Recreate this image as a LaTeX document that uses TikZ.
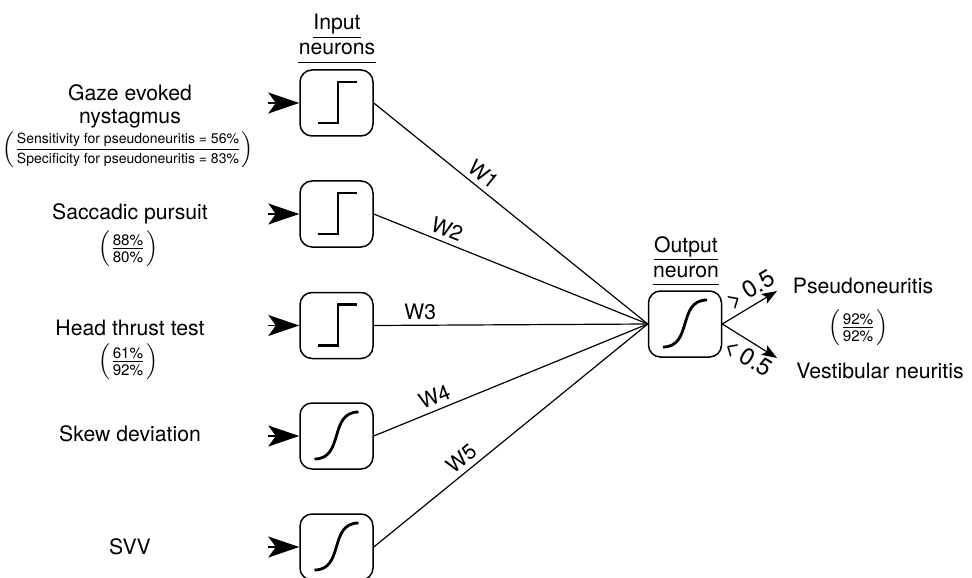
\documentclass[tikz,border=0pt]{standalone}
\usepackage{fontspec}
\setmainfont{TeX Gyre Heros}
\usetikzlibrary{arrows.meta}
\newcommand\pfrac[2]{\ensuremath{\left(\,\vcenter{\halign{\hfil##\hfil\cr #1\cr\noalign{\kern1.2pt\hrule height 0.45pt\kern1.4pt}#2\cr}}\,\right)}}
\begin{document}
\begin{tikzpicture}[x=0.5pt,y=-0.5pt,
  unit/.style={draw, line width=0.75pt, rounded corners=6pt, minimum width=36.5pt, minimum height=33pt, inner sep=0pt},
  fn/.style={line width=1.4pt},
  conn/.style={line width=0.6pt},
  inarrow/.style={-{Stealth[length=15.5pt,width=10.5pt,inset=3.8pt]}, line width=0.6pt},
  outarrow/.style={-{Stealth[length=7.5pt,width=5.5pt,inset=1.5pt]}, line width=0.6pt},
  lbl/.style={font=\fontsize{10.6}{11.6}\selectfont, align=center, inner sep=0pt},
  wlbl/.style={font=\fontsize{10.6}{12}\selectfont, sloped, above, inner sep=2.5pt},
  thr/.style={font=\fontsize{12}{12}\selectfont, sloped, inner sep=2.5pt},
  fracs/.style={font=\fontsize{7}{7}\selectfont, inner sep=0pt},
  pcts/.style={font=\fontsize{7.6}{7.6}\selectfont, inner sep=0pt},
  hd/.style={font=\fontsize{10.6}{12}\selectfont, inner sep=0pt, text depth=3.5pt, anchor=base},
  uline/.style={line width=0.6pt}
]
\useasboundingbox (0,0) rectangle (972,577);

% input units
\node[unit] (b1) at (336.5,103) {};
\node[unit] (b2) at (336.5,214) {};
\node[unit] (b3) at (336.5,325.5) {};
\node[unit] (b4) at (336.5,436) {};
\node[unit] (b5) at (336.5,547) {};
\node[unit] (out) at (685,324) {};

% transfer functions
\foreach \b in {b1,b2,b3}{
  \draw[fn, shift={(\b.center)}] (-19,20) -- (1.5,20) -- (1.5,-21) -- (20,-21);
}
\foreach \b in {b4,b5,out}{
  \draw[fn, shift={(\b.center)}] (-22,23) .. controls (8,23) and (-8,-24) .. (22,-24);
}

% input arrows
\foreach \b/\y in {b1/103,b2/214,b3/325.5,b4/436,b5/547}{
  \coordinate (s\b) at (268,\y);
  \draw[inarrow] (s\b) -- (\b.west);
}

% connections
\draw[conn] (b1.east) -- node[wlbl,pos=0.37] {W1} (out.west);
\draw[conn] (b2.east) -- node[wlbl,pos=0.25] {W2} (out.west);
\draw[conn] (b3.east) -- node[wlbl,pos=0.17] {W3} (out.west);
\draw[conn] (b4.east) -- node[wlbl,pos=0.24] {W4} (out.west);
\draw[conn] (b5.east) -- node[wlbl,pos=0.35] {W5} (out.west);

% outputs
\coordinate (pt) at (777,291);
\coordinate (vt) at (777,358);
\draw[outarrow] (out.east) -- node[thr,above,pos=0.66] {>\,0.5} (pt);
\draw[outarrow] (out.east) -- node[thr,below,pos=0.62] {<\,0.5} (vt);
\node[lbl, anchor=base] (pn) at (863,293) {Pseudoneuritis};
\node[lbl, anchor=base] (vn) at (880,378) {Vestibular neuritis};
\node[pcts] (fo) at (858,328) {\pfrac{92\%}{92\%}};

% headings
\node[hd] (h1) at (337,30) {Input};
\node[hd] (h2) at (337,55) {neurons};
\node[hd] (h3) at (686,252) {Output};
\node[hd] (h4) at (686,277) {neuron};
\foreach \h in {h1,h2,h3,h4}{
  \draw[uline] (\h.south west) -- (\h.south east);
}

% left labels
\node[lbl] (l1) at (130,106) {Gaze evoked\\nystagmus};
\node[fracs] (f1) at (128,150) {\pfrac{Sensitivity for pseudoneuritis = 56\%}{Specificity for pseudoneuritis = 83\%}};
\node[lbl, anchor=base] (l2) at (130,220) {Saccadic pursuit};
\node[pcts] (f2) at (128,249) {\pfrac{88\%}{80\%}};
\node[lbl, anchor=base] (l3) at (130,335) {Head thrust test};
\node[pcts] (f3) at (128,362) {\pfrac{61\%}{92\%}};
\node[lbl, anchor=base] (l4) at (130,441) {Skew deviation};
\node[lbl, anchor=base] (l5) at (130,554) {SVV};
\end{tikzpicture}
\end{document}
